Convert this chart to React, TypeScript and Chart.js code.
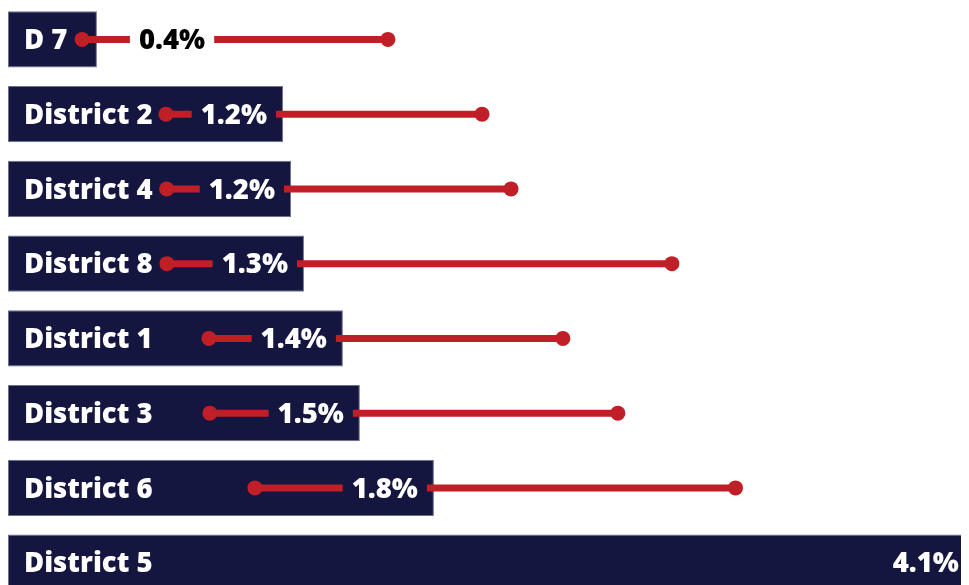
import React, { useEffect, useRef } from "react";
import { Chart, registerables } from "chart.js";

Chart.register(...registerables);

const categories = ["D 7", "District 2", "District 4", "District 8", "District 1", "District 3", "District 6", "District 5"];
const barValues = [0.377, 1.166, 1.2, 1.255, 1.42, 1.492, 1.806, 4.1];
const valueLabels = ["0.4%", "1.2%", "1.2%", "1.3%", "1.4%", "1.5%", "1.8%", "4.1%"];
const rangeLow: (number | null)[] = [0.314, 0.67, 0.673, 0.674, 0.852, 0.856, 1.047, null];
const rangeHigh: (number | null)[] = [1.611, 2.01, 2.133, 2.815, 2.353, 2.586, 3.085, null];
const xMax = 4.075;

const NAVY = "#141640";
const RED = "#c01f27";
const FONT = "800 27.5px 'Open Sans', 'Noto Sans', sans-serif";

const overlayPlugin = {
  id: "overlay",
  afterDatasetsDraw(chart: any) {
    const ctx = chart.ctx;
    const xs = chart.scales.x;
    const ys = chart.scales.y;
    const area = chart.chartArea;
    ctx.save();
    ctx.font = FONT;
    ctx.textBaseline = "middle";
    categories.forEach((name, i) => {
      const y = ys.getPixelForValue(i);
      const x0 = xs.getPixelForValue(0);
      const xEnd = xs.getPixelForValue(barValues[i]);
      ctx.fillStyle = "#ffffff";
      ctx.textAlign = "left";
      ctx.fillText(name, x0 + 16, y + 2);
      const lo = rangeLow[i];
      const hi = rangeHigh[i];
      if (lo != null && hi != null) {
        const xl = xs.getPixelForValue(lo);
        const xh = xs.getPixelForValue(hi);
        ctx.strokeStyle = RED;
        ctx.lineWidth = 7;
        ctx.lineCap = "butt";
        ctx.beginPath();
        ctx.moveTo(xl, y);
        ctx.lineTo(xh, y);
        ctx.stroke();
        ctx.fillStyle = RED;
        [xl, xh].forEach((px) => {
          ctx.beginPath();
          ctx.arc(px, y, 7.5, 0, Math.PI * 2);
          ctx.fill();
        });
      }
      const label = valueLabels[i];
      const tw = ctx.measureText(label).width;
      const pad = 9;
      const boxW = tw + pad * 2;
      let boxRight = xEnd - 7;
      const inside = boxRight - boxW > x0 + 16 + ctx.measureText(name).width + 8;
      let boxLeft: number;
      if (inside) {
        if (boxRight > area.right + 3) boxRight = area.right + 3;
        boxLeft = boxRight - boxW;
      } else {
        boxLeft = xEnd + 33;
      }
      ctx.fillStyle = inside ? NAVY : "#ffffff";
      ctx.fillRect(boxLeft, y - 16, boxW, 32);
      ctx.fillStyle = inside ? "#ffffff" : "#000000";
      ctx.textAlign = "left";
      ctx.fillText(label, boxLeft + pad, y + 2);
    });
    ctx.restore();
  },
};

export default function App() {
  const ref = useRef<HTMLCanvasElement | null>(null);
  useEffect(() => {
    if (!ref.current) return;
    const chart = new Chart(ref.current, {
      type: "bar",
      data: {
        labels: categories,
        datasets: [
          {
            data: barValues,
            backgroundColor: NAVY,
            borderColor: "#6e7092",
            borderWidth: 1,
            borderSkipped: false,
            barPercentage: 0.75,
            categoryPercentage: 1,
          },
        ],
      },
      options: {
        indexAxis: "y",
        animation: false,
        responsive: true,
        maintainAspectRatio: false,
        layout: { padding: 0 },
        plugins: { legend: { display: false }, tooltip: { enabled: false } },
        scales: {
          x: { display: false, min: 0, max: xMax },
          y: { display: false },
        },
      },
      plugins: [overlayPlugin],
    });
    return () => chart.destroy();
  }, []);
  return (
    <div style={{ position: "relative", width: 961, height: 598, marginTop: -6 }}>
      <canvas ref={ref} />
    </div>
  );
}
